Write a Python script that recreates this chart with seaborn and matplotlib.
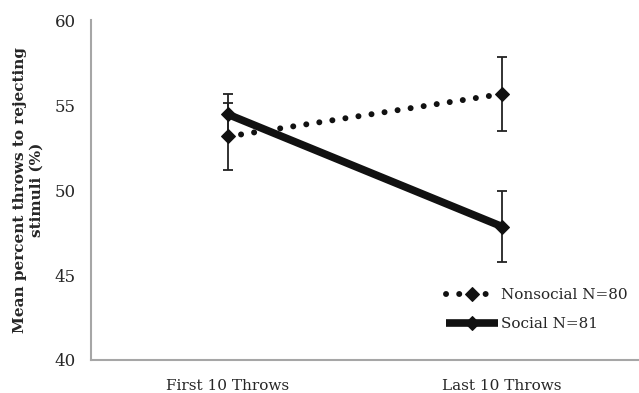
import seaborn as sns
import matplotlib.pyplot as plt
import pandas as pd

# values
phases = ["First 10 Throws", "Last 10 Throws"]
nonsocial_mean = [53.15, 55.65]
nonsocial_err = [1.95, 2.2]
social_mean = [54.45, 47.85]
social_err = [1.2, 2.1]
groups = ["Nonsocial N=80", "Social N=81"]

df = pd.DataFrame({
    "phase": phases * 2,
    "mean": nonsocial_mean + social_mean,
    "err": nonsocial_err + social_err,
    "group": [groups[0]] * 2 + [groups[1]] * 2,
})

sns.set_style("white")
plt.rcParams["font.family"] = ["DejaVu Serif"]

fig = plt.figure(figsize=(6.39, 3.93), dpi=100)
ax = fig.add_axes([0.1424, 0.084, 0.8576, 0.865])

x_pos = {p: i for i, p in enumerate(phases)}
df["x"] = df["phase"].map(x_pos)

# error bars first so markers sit on top
for g, sub in df.groupby("group"):
    ax.errorbar(sub["x"], sub["mean"], yerr=sub["err"], fmt="none",
                ecolor="#222222", elinewidth=1.3, capsize=3.5, capthick=1.3, zorder=2)

styles = {groups[0]: dict(ls=(0, (0.01, 2.2)), lw=4.3),
          groups[1]: dict(ls="-", lw=5.5)}
for g in groups:
    sub = df[df["group"] == g]
    sns.lineplot(data=sub, x="x", y="mean", ax=ax, color="#111111",
                 marker="D", markersize=7.5, markeredgecolor="#111111",
                 linestyle=styles[g]["ls"], linewidth=styles[g]["lw"],
                 solid_capstyle="butt", dash_capstyle="round",
                 label=g, zorder=3)

ax.set_xlim(-0.5, 1.5)
ax.set_ylim(40, 60)
ax.set_yticks([40, 45, 50, 55, 60])
ax.set_xticks([0, 1])
ax.set_xticklabels(phases)
ax.set_xticks([0.5], minor=True)
ax.tick_params(axis="x", which="major", length=0, labelsize=11, pad=14)
ax.tick_params(axis="x", which="minor", length=5, width=1.3, color="#a6a6a6")
ax.tick_params(axis="y", length=6, width=1.3, color="#a6a6a6", labelsize=12, pad=5)
ax.set_xlabel("")
ax.set_ylabel("Mean percent throws to rejecting\nstimuli (%)", fontsize=11,
              fontweight="bold", labelpad=8)

for side in ["top", "right"]:
    ax.spines[side].set_visible(False)
for side in ["left", "bottom"]:
    ax.spines[side].set_color("#a6a6a6")
    ax.spines[side].set_linewidth(1.5)

leg = ax.legend(loc="lower right", bbox_to_anchor=(1.005, 0.045), frameon=False,
                fontsize=11, handlelength=3.4, handletextpad=0.2, labelspacing=0.95)

fig.savefig("out.png", dpi=100)
